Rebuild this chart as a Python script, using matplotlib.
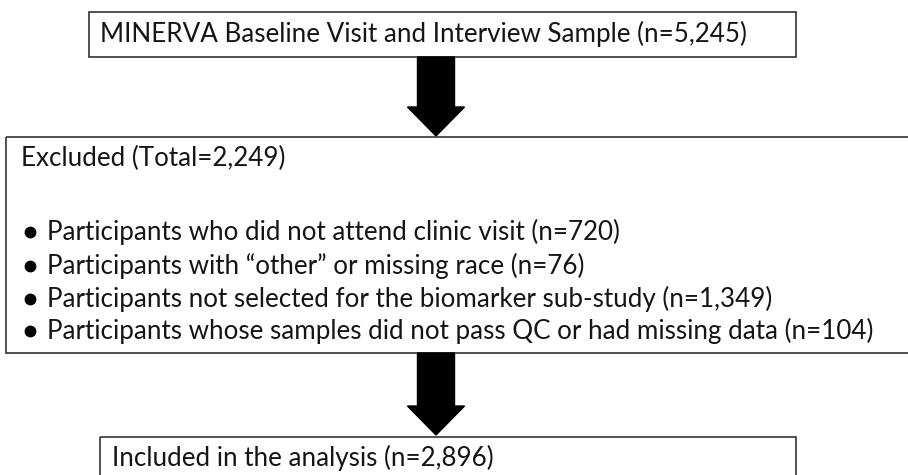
import matplotlib.pyplot as plt
from matplotlib.patches import Rectangle, Polygon

# Flowchart content
top_label = "MINERVA Baseline Visit and Interview Sample (n=5,245)"
excluded_title = "Excluded (Total=2,249)"
excluded_items = [
    "Participants who did not attend clinic visit (n=720)",
    "Participants with \u201cother\u201d or missing race (n=76)",
    "Participants not selected for the biomarker sub-study (n=1,349)",
    "Participants whose samples did not pass QC or had missing data (n=104)",
]
bottom_label = "Included in the analysis (n=2,896)"

W, H = 908, 475
fig = plt.figure(figsize=(W / 100, H / 100), dpi=100)
ax = fig.add_axes([0, 0, 1, 1])
ax.set_xlim(0, W)
ax.set_ylim(H, 0)
ax.axis("off")

FONT = "Lato"
FS = 18.7
edge = "#333333"
txt = "#151515"


def box(x0, y0, x1, y1):
    ax.add_patch(Rectangle((x0, y0), x1 - x0, y1 - y0, fill=False,
                           edgecolor=edge, linewidth=1.2))


def down_arrow(cx, y_top, y_tip, shaft_w=37, head_w=57, head_h=29):
    pts = [
        (cx - shaft_w / 2, y_top), (cx + shaft_w / 2, y_top),
        (cx + shaft_w / 2, y_tip - head_h), (cx + head_w / 2, y_tip - head_h),
        (cx, y_tip), (cx - head_w / 2, y_tip - head_h),
        (cx - shaft_w / 2, y_tip - head_h),
    ]
    ax.add_patch(Polygon(pts, closed=True, facecolor="black", edgecolor="black"))


# top box
box(89, 12, 796, 57)
ax.text(100, 34, top_label, fontsize=FS, family=FONT, va="center", ha="left", color=txt)

down_arrow(436, 57, 136)

# middle box (right edge runs off the canvas)
box(6, 137, 915, 353)
ax.text(21, 158, excluded_title, fontsize=FS, family=FONT, va="center", ha="left", color=txt)
ys = [232, 266, 299, 331]
for y, item in zip(ys, excluded_items):
    ax.plot(30, y, "o", color="black", markersize=7.5)
    ax.text(47, y, item, fontsize=FS, family=FONT, va="center", ha="left", color=txt)

down_arrow(436, 353, 435)

# bottom box
box(100, 437, 796, 490)
ax.text(112, 458, bottom_label, fontsize=FS, family=FONT, va="center", ha="left", color=txt)

fig.savefig("out.png", dpi=100)
